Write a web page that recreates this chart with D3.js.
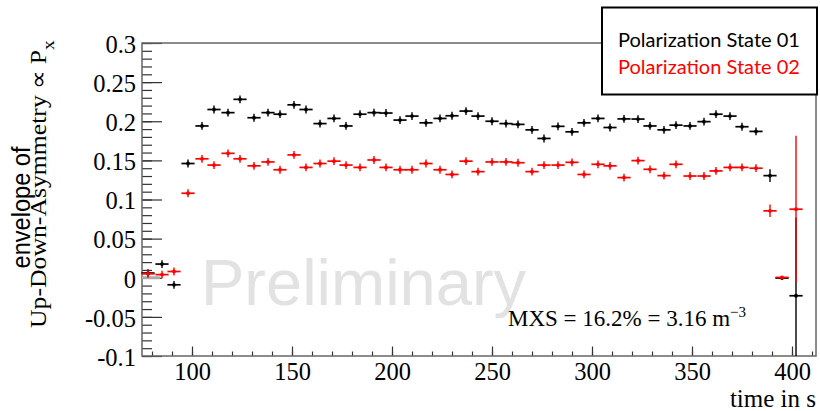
<!DOCTYPE html>
<html>
<head>
<meta charset="utf-8">
<script src="https://cdn.jsdelivr.net/npm/d3@7"></script>
<style>
  body { margin: 0; background: #fff; }
  svg { display: block; }
</style>
</head>
<body>
<svg id="chart"></svg>
<script>
const width = 820;
const height = 411;

// bin centres in s
const times = [78, 85, 91, 98, 105, 111, 118, 124, 131, 138,
    144, 151, 157, 164, 171, 177, 184, 191, 197, 204,
    210, 217, 224, 230, 237, 243, 250, 257, 263, 270,
    276, 283, 290, 296, 303, 309, 316, 323, 329, 336,
    342, 349, 356, 362, 369, 375, 382, 389, 395, 402];
const binHalf = 3.3;

const state01 = [0.006, 0.0175, -0.009, 0.146, 0.194, 0.215, 0.211, 0.228, 0.2045, 0.211,
    0.209, 0.221, 0.215, 0.197, 0.2036, 0.194, 0.209, 0.211, 0.2105, 0.2015,
    0.2066, 0.198, 0.2036, 0.207, 0.213, 0.2066, 0.200, 0.197, 0.196, 0.189,
    0.178, 0.1935, 0.1865, 0.198, 0.2036, 0.192, 0.203, 0.2028, 0.194, 0.189,
    0.195, 0.194, 0.1995, 0.209, 0.2066, 0.193, 0.187, 0.1305, -0.0004, -0.023];
const state01Err = [0.005, 0.005, 0.005, 0.005, 0.005, 0.005, 0.005, 0.005, 0.005, 0.005,
    0.005, 0.005, 0.005, 0.005, 0.005, 0.005, 0.005, 0.005, 0.005, 0.005,
    0.005, 0.005, 0.005, 0.005, 0.005, 0.005, 0.005, 0.005, 0.005, 0.005,
    0.005, 0.005, 0.005, 0.005, 0.005, 0.005, 0.005, 0.005, 0.005, 0.005,
    0.005, 0.005, 0.005, 0.005, 0.005, 0.005, 0.005, 0.008, 0.001, 0.1];

const state02 = [0.005, 0.004, 0.008, 0.108, 0.152, 0.144, 0.159, 0.152, 0.143, 0.148,
    0.138, 0.157, 0.141, 0.146, 0.149, 0.144, 0.141, 0.1505, 0.141, 0.138,
    0.138, 0.146, 0.138, 0.132, 0.149, 0.1356, 0.148, 0.148, 0.147, 0.1356,
    0.144, 0.144, 0.1475, 0.132, 0.145, 0.143, 0.128, 0.1497, 0.1386, 0.1305,
    0.145, 0.130, 0.130, 0.1365, 0.141, 0.141, 0.140, 0.0855, 0.0004, 0.0876];
const state02Err = [0.005, 0.005, 0.005, 0.005, 0.005, 0.005, 0.005, 0.005, 0.005, 0.005,
    0.005, 0.005, 0.005, 0.005, 0.005, 0.005, 0.005, 0.005, 0.005, 0.005,
    0.005, 0.005, 0.005, 0.005, 0.005, 0.005, 0.005, 0.005, 0.005, 0.005,
    0.005, 0.005, 0.005, 0.005, 0.005, 0.005, 0.005, 0.005, 0.005, 0.005,
    0.005, 0.005, 0.005, 0.005, 0.005, 0.005, 0.005, 0.008, 0.001, 0.094];

const yTicks = [-0.1, -0.05, 0, 0.05, 0.1, 0.15, 0.2, 0.25, 0.3];
const xTicks = [100, 150, 200, 250, 300, 350, 400];
const legendLabels = ["Polarization State 01", "Polarization State 02"];
const colors = ["#000000", "#ff0000"];

const svg = d3.select("#chart")
    .attr("width", width)
    .attr("height", height);

const x = d3.scaleLinear().domain([75, 412]).range([142, 816]);
const y = d3.scaleLinear().domain([-0.1, 0.3]).range([356, 43]);

const serif = "'Liberation Serif', 'Times New Roman', serif";
const sans = "'Liberation Sans', Arial, sans-serif";

// watermark
svg.append("text")
    .attr("x", 201)
    .attr("y", 305)
    .attr("font-family", sans)
    .attr("font-size", 65)
    .attr("fill", "#e2e2e2")
    .text("Preliminary");

// minor ticks
const yMinor = d3.range(-0.1, 0.3001, 0.01);
const xMinor = d3.range(80, 411, 10);

svg.append("g")
    .attr("transform", `translate(${x.range()[0]},0)`)
    .call(d3.axisLeft(y).tickValues(yMinor).tickSize(-10).tickFormat(""))
    .call(g => g.select(".domain").remove())
    .call(g => g.selectAll("line").attr("stroke", "#333").attr("stroke-width", 1.2));

svg.append("g")
    .attr("transform", `translate(0,${y.range()[0]})`)
    .call(d3.axisBottom(x).tickValues(xMinor).tickSize(-4.5).tickFormat(""))
    .call(g => g.select(".domain").remove())
    .call(g => g.selectAll("line").attr("stroke", "#333").attr("stroke-width", 1.2));

// major ticks + labels
const fmt = d => String(+d.toFixed(2));

svg.append("g")
    .attr("transform", `translate(${x.range()[0]},0)`)
    .call(d3.axisLeft(y).tickValues(yTicks).tickSize(-20).tickPadding(6).tickFormat(fmt))
    .call(g => g.select(".domain").remove())
    .call(g => g.selectAll("line").attr("stroke", "#333").attr("stroke-width", 1.2))
    .call(g => g.selectAll("text")
        .attr("font-family", serif)
        .attr("font-size", 24.5)
        .attr("dy", "0.38em")
        .attr("fill", "#000"));

svg.append("g")
    .attr("transform", `translate(0,${y.range()[0]})`)
    .call(d3.axisBottom(x).tickValues(xTicks).tickSize(-9.5).tickPadding(7).tickFormat(d3.format("d")))
    .call(g => g.select(".domain").remove())
    .call(g => g.selectAll("line").attr("stroke", "#333").attr("stroke-width", 1.2))
    .call(g => g.selectAll("text")
        .attr("font-family", serif)
        .attr("font-size", 24.5)
        .attr("fill", "#000"));

// frame
svg.append("rect")
    .attr("x", x.range()[0])
    .attr("y", y.range()[1])
    .attr("width", x.range()[1] - x.range()[0])
    .attr("height", y.range()[0] - y.range()[1])
    .attr("fill", "none")
    .attr("stroke", "#666")
    .attr("stroke-width", 1.5);

// small grey stub at zero near the left edge
svg.append("line")
    .attr("x1", x(75)).attr("x2", x(84))
    .attr("y1", y(0)).attr("y2", y(0))
    .attr("stroke", "#aaa")
    .attr("stroke-width", 3);

const plot = svg.append("g");

function drawSeries(vals, errs, color) {
    const pts = times.map((t, i) => ({ t: t, v: vals[i], e: errs[i] }));
    const g = plot.append("g")
        .attr("stroke", color)
        .attr("fill", color);
    g.selectAll(".hbar")
        .data(pts)
        .enter().append("line")
        .attr("class", "hbar")
        .attr("x1", d => x(d.t - binHalf))
        .attr("x2", d => x(d.t + binHalf))
        .attr("y1", d => y(d.v))
        .attr("y2", d => y(d.v))
        .attr("stroke-width", 1.7);
    g.selectAll(".vbar")
        .data(pts)
        .enter().append("line")
        .attr("class", "vbar")
        .attr("x1", d => x(d.t))
        .attr("x2", d => x(d.t))
        .attr("y1", d => Math.min(y(d.v - d.e), y.range()[0]))
        .attr("y2", d => y(d.v + d.e))
        .attr("stroke-width", 1.4);
    g.selectAll("circle")
        .data(pts)
        .enter().append("circle")
        .attr("cx", d => x(d.t))
        .attr("cy", d => y(d.v))
        .attr("r", 1.9)
        .attr("stroke", "none");
}

drawSeries(state01, state01Err, colors[0]);
drawSeries(state02, state02Err, colors[1]);

// annotation
const note = svg.append("text")
    .attr("x", 508)
    .attr("y", 326)
    .attr("font-family", serif)
    .attr("font-size", 23)
    .attr("fill", "#000");
note.append("tspan").text("MXS = 16.2% = 3.16 m");
note.append("tspan")
    .attr("dy", -9)
    .attr("font-size", 15)
    .text("\u22123");

// axis titles
svg.append("text")
    .attr("x", 816)
    .attr("y", 407)
    .attr("text-anchor", "end")
    .attr("font-family", serif)
    .attr("font-size", 25)
    .attr("fill", "#000")
    .text("time in s");

// fit a rotated title to a given length along the axis
function fitLength(sel, target) {
    const len = sel.node().getComputedTextLength();
    return target / len;
}

const env = svg.append("g");
const envText = env.append("text")
    .attr("text-anchor", "middle")
    .attr("font-family", sans)
    .attr("font-size", 26)
    .attr("fill", "#000")
    .text("envelope of");
env.attr("transform", `translate(29.5,207.5) rotate(-90) scale(${fitLength(envText, 122)},1)`);

const asym = svg.append("g");
const yTitle = asym.append("text")
    .attr("text-anchor", "start")
    .attr("font-family", serif)
    .attr("font-size", 22.5)
    .attr("fill", "#000");
yTitle.append("tspan").text("Up-Down-Asymmetry \u221D P");
yTitle.append("tspan")
    .attr("dy", 8)
    .attr("font-size", 17)
    .text("x");
asym.attr("transform", `translate(46,328) rotate(-90) scale(${fitLength(yTitle, 288)},1)`);

// legend
const legend = svg.append("g");
legend.append("rect")
    .attr("x", 602)
    .attr("y", 7.5)
    .attr("width", 215)
    .attr("height", 87)
    .attr("fill", "#fff")
    .attr("stroke", "#000")
    .attr("stroke-width", 2);

legend.selectAll("text")
    .data(legendLabels)
    .enter().append("text")
    .attr("x", 618)
    .attr("y", (d, i) => 46.5 + i * 27.5)
    .attr("font-family", "Lato, 'Open Sans', sans-serif")
    .attr("font-size", 18.5)
    .attr("textLength", 182)
    .attr("lengthAdjust", "spacingAndGlyphs")
    .attr("fill", (d, i) => colors[i])
    .text(d => d);
</script>
</body>
</html>
